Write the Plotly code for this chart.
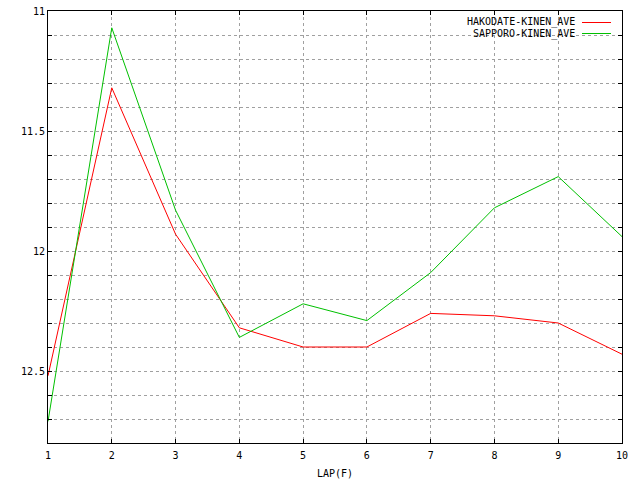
import plotly.graph_objects as go

laps = [1, 2, 3, 4, 5, 6, 7, 8, 9, 10]
hakodate = [12.52, 11.32, 11.93, 12.32, 12.40, 12.40, 12.26, 12.27, 12.30, 12.43]
sapporo = [12.71, 11.07, 11.83, 12.36, 12.22, 12.29, 12.09, 11.82, 11.69, 11.94]
series_names = ["HAKODATE-KINEN_AVE", "SAPPORO-KINEN_AVE"]
series_colors = ["#ff0000", "#00c000"]

y_tickvals = [round(11 + 0.1 * i, 1) for i in range(19)]
y_ticktext = [("%g" % v) if abs(v * 2 - round(v * 2)) < 1e-9 else "" for v in y_tickvals]

FONT = dict(family="DejaVu Sans Mono", size=10, color="black")

fig = go.Figure()
for name, vals, col in zip(series_names, [hakodate, sapporo], series_colors):
    fig.add_trace(go.Scatter(x=laps, y=vals, mode="lines", name=name,
                             line=dict(color=col, width=1), showlegend=False))

fig.update_layout(
    width=640, height=480,
    margin=dict(l=48, r=18, t=11, b=37),
    plot_bgcolor="white", paper_bgcolor="white",
    font=FONT,
)
fig.update_xaxes(
    range=[1, 10], tickvals=laps, ticktext=[str(v) for v in laps],
    showline=True, linecolor="black", linewidth=1, mirror="ticks",
    ticks="inside", ticklen=4, tickcolor="black",
    showgrid=True, gridcolor="#a0a0a0", griddash="3px,3px", gridwidth=1,
    zeroline=False, tickfont=FONT, automargin=False, ticklabelstandoff=3,
    ticklabeloverflow="allow",
    title=dict(text="LAP(F)", font=FONT, standoff=9),
)
fig.update_yaxes(
    range=[12.8, 11], tickvals=y_tickvals, ticktext=y_ticktext,
    showline=True, linecolor="black", linewidth=1, mirror="ticks",
    ticks="inside", ticklen=4, tickcolor="black",
    showgrid=True, gridcolor="#a0a0a0", griddash="3px,3px", gridwidth=1,
    zeroline=False, tickfont=FONT, automargin=False, ticklabeloverflow="allow",
)

# gnuplot-style key: right-aligned text with line sample to its right
for i, (name, col) in enumerate(zip(series_names, series_colors)):
    ypix = 22.5 + i * 11
    yp = 1 - (ypix - 11) / (443 - 11)
    fig.add_annotation(xref="paper", yref="paper", x=(577 - 48) / (622 - 48), y=yp,
                       text=name, showarrow=False, xanchor="right", yanchor="middle",
                       font=FONT)
    fig.add_shape(type="line", xref="paper", yref="paper",
                  x0=(582 - 48) / (622 - 48), x1=(611 - 48) / (622 - 48), y0=yp, y1=yp,
                  line=dict(color=col, width=1))

# remove the default 8px page margin so the figure sits at the window's top-left corner
fig.write_html("out.html", config={"displayModeBar": False},
               post_script="document.body.style.margin='0';")
